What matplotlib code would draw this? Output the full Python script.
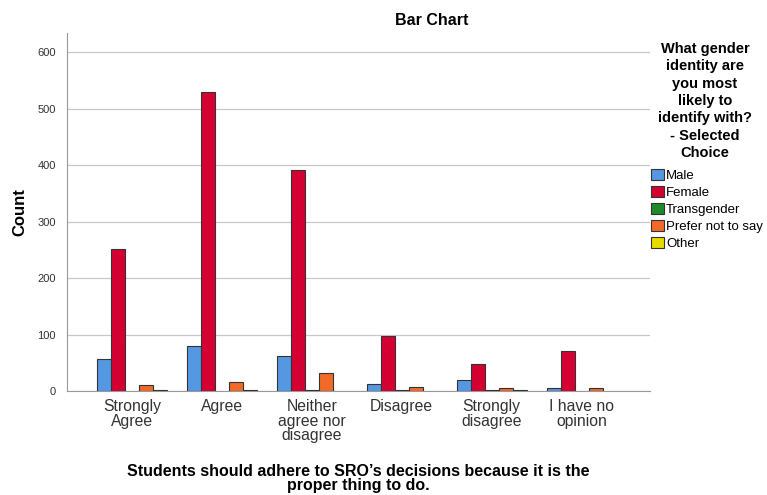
import numpy as np
import matplotlib
matplotlib.use("Agg")
import matplotlib.pyplot as plt
from matplotlib.patches import Patch

plt.rcParams["font.family"] = ["Liberation Sans", "DejaVu Sans"]

categories = ["Strongly\nAgree", "Agree", "Neither\nagree nor\ndisagree",
              "Disagree", "Strongly\ndisagree", "I have no\nopinion"]
series = ["Male", "Female", "Transgender", "Prefer not to say", "Other"]
male = [56, 79, 62, 13, 19, 6]
female = [252, 530, 391, 97, 48, 70]
transgender = [0, 0, 2, 2, 1, 0]
prefer_not = [10, 16, 31, 7, 6, 5]
other = [2, 2, 0, 0, 1, 0]
yticks = [0, 100, 200, 300, 400, 500, 600]

colors = ["#5697E2", "#D50032", "#1F8A2A", "#F26A28", "#E6DC00"]
values = [male, female, transgender, prefer_not, other]

fig = plt.figure(figsize=(7.67, 4.95), dpi=100)
ax = fig.add_axes([67 / 767, 1 - 391 / 495, (650 - 67) / 767, (391 - 33) / 495])

x = np.arange(len(categories))
w = 0.155
for i, (name, vals, col) in enumerate(zip(series, values, colors)):
    for xi, v in zip(x, vals):
        if v > 0:
            ax.bar(xi + (i - 2) * w, v, width=w, color=col,
                   edgecolor="#333333", linewidth=0.8, zorder=3)

ax.set_xlim(-0.72, 5.76)
ax.set_ylim(0, 634)
ax.set_yticks(yticks)
ax.set_xticks(x)
ax.set_xticklabels(categories, fontsize=11.3, color="#333333", linespacing=0.95)
ax.tick_params(axis="y", labelsize=8, colors="#333333", length=0, pad=8)
ax.tick_params(axis="x", length=0, pad=6)
ax.yaxis.grid(True, color="#C8C8C8", linewidth=0.9, zorder=0)
ax.set_axisbelow(True)
for side in ["top", "right"]:
    ax.spines[side].set_visible(False)
ax.spines["left"].set_color("#999999")
ax.spines["bottom"].set_color("#999999")

ax.set_ylabel("Count", fontsize=12, fontweight="bold")
ax.yaxis.set_label_coords(-0.068, 0.5)

fig.text(358 / 767, 1 - 493 / 495,
         "Students should adhere to SRO\u2019s decisions because it is the\nproper thing to do.",
         ha="center", va="bottom", fontsize=11.5, fontweight="bold", linespacing=0.95)
fig.text(432 / 767, 1 - 25 / 495, "Bar Chart", ha="center", va="baseline",
         fontsize=11.5, fontweight="bold")

fig.text(705 / 767, 1 - 42 / 495,
         "What gender\nidentity are\nyou most\nlikely to\nidentify with?\n- Selected\nChoice",
         ha="center", va="top", fontsize=10.5, fontweight="bold", linespacing=1.3)

handles = [Patch(facecolor=c, edgecolor="#333333", linewidth=0.8) for c in colors]
fig.legend(handles, series, loc="upper left", bbox_to_anchor=(651 / 767, 1 - 169 / 495),
           frameon=False, fontsize=9.5, handlelength=0.95, handleheight=0.95,
           handletextpad=0.2, labelspacing=0.28, borderpad=0, borderaxespad=0)

fig.savefig("out.png", dpi=100, facecolor="white")
